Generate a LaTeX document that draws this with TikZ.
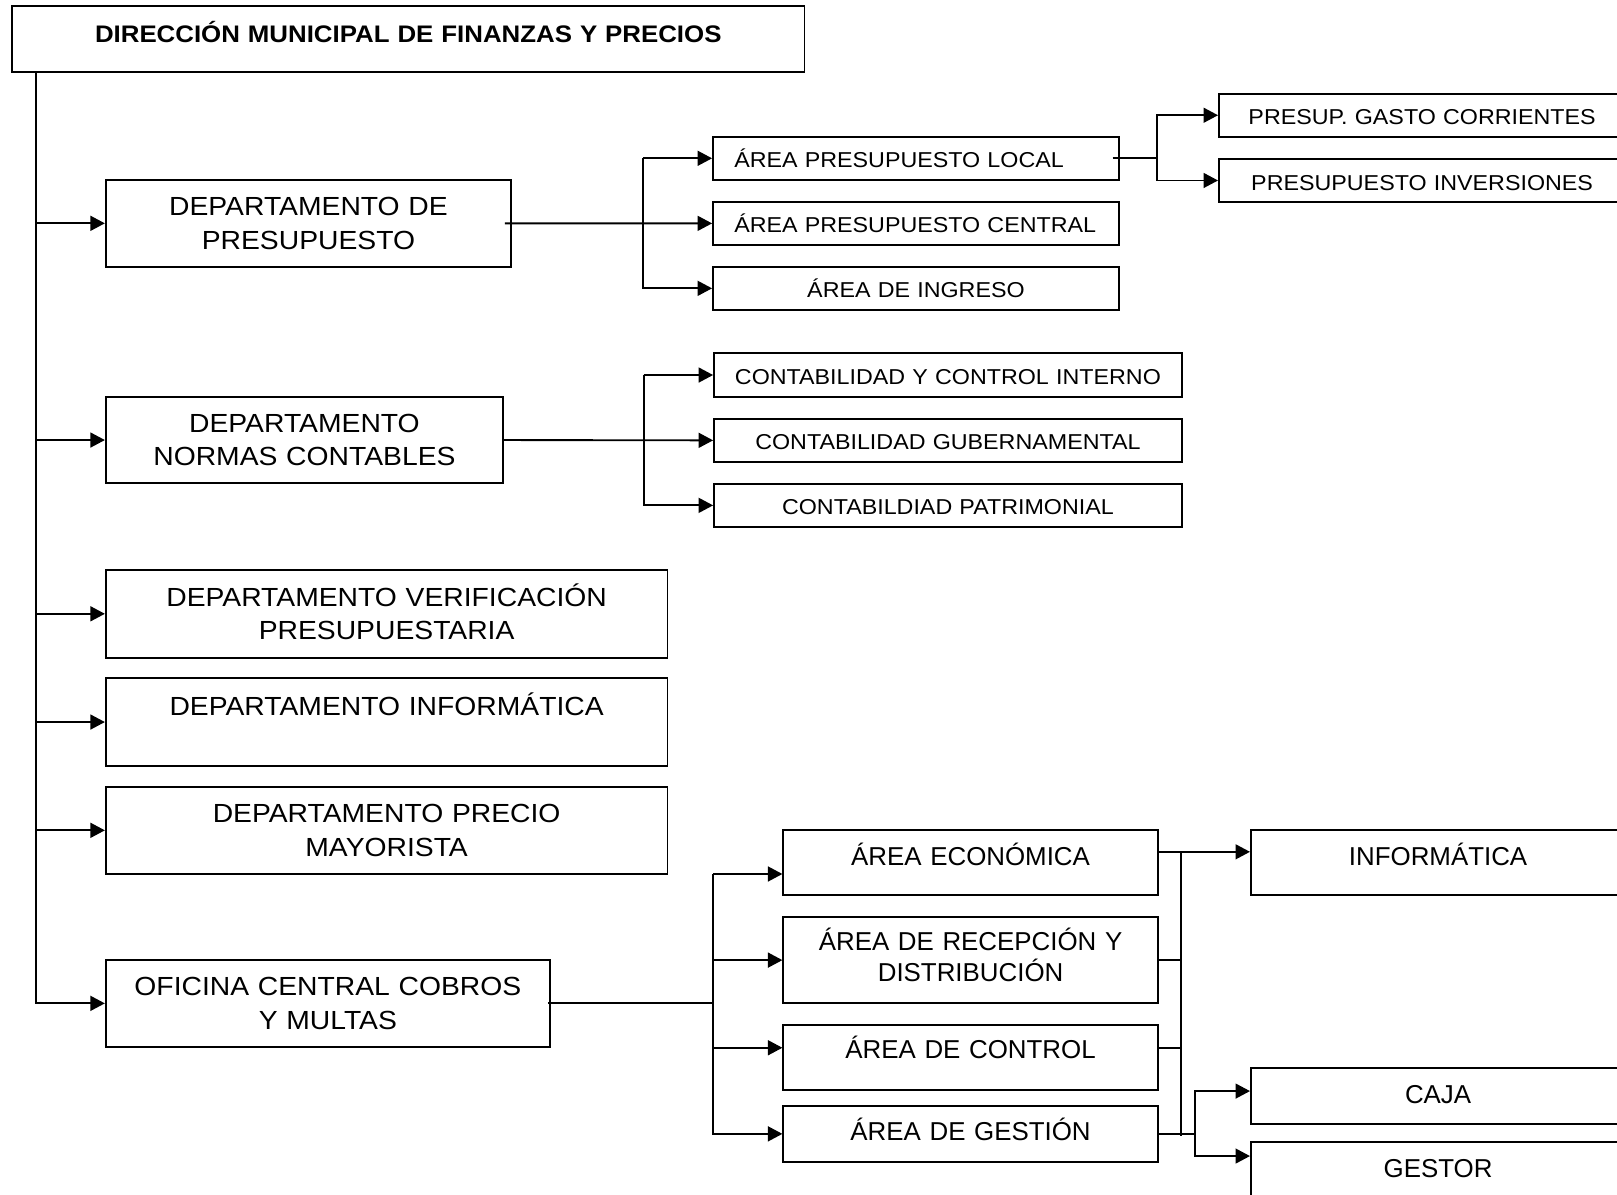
\documentclass[tikz,border=0pt]{standalone}
\usepackage{fontspec}
\setmainfont{Liberation Sans}
\newfontfamily\widesans[FakeStretch=1.08]{Liberation Sans}
\usetikzlibrary{arrows.meta,calc}

\tikzset{
  box/.style={draw, line width=0.9pt, inner ysep=0pt, inner xsep=2pt, align=center},
  link/.style={line width=0.9pt},
  arr/.style={link, -{Triangle[length=7pt,width=7.2pt]}},
  fhead/.style={font=\widesans\bfseries\fontsize{11.6pt}{14pt}\selectfont},
  fdept/.style={font=\widesans\fontsize{12.7pt}{16.1pt}\selectfont},
  farea/.style={font=\widesans\fontsize{10.45pt}{12.5pt}\selectfont},
  flow/.style={font=\fontsize{12.55pt}{15.25pt}\selectfont},
}

\begin{document}
\begin{tikzpicture}[x=0.5pt, y=-0.5pt]
\useasboundingbox (0,0) rectangle (1568,1158);
\clip (0,0) rectangle (1568,1158);
\fill[white] (0,0) rectangle (1568,1158);

% ---- head office ----
\node[box, fhead, minimum width=384.2pt, minimum height=31.85pt, text width=380.2pt,
      text height=8.1pt, text depth=4.7pt] (dir) at (395.9,37.7)
  {DIRECCIÓN MUNICIPAL DE FINANZAS Y PRECIOS};

% ---- departments ----
\node[box, fdept, minimum width=196.5pt, minimum height=42.05pt, text width=192.5pt,
      text height=8.9pt, text depth=16.1pt] (d1) at (299.1,216.55)
  {DEPARTAMENTO DE\\PRESUPUESTO};
\node[box, fdept, minimum width=192.6pt, minimum height=42pt, text width=188.6pt,
      text height=8.9pt, text depth=16.1pt] (d2) at (295.2,426.7)
  {DEPARTAMENTO\\NORMAS CONTABLES};
\node[box, fdept, minimum width=272.3pt, minimum height=42.5pt, text width=268.3pt,
      text height=8.9pt, text depth=16.1pt] (d3) at (374.9,595.2)
  {DEPARTAMENTO VERIFICACIÓN\\PRESUPUESTARIA};
\node[box, fdept, minimum width=272.3pt, minimum height=42.35pt, text width=268.3pt,
      text height=8.9pt, text depth=15.65pt] (d4) at (374.9,700.15)
  {DEPARTAMENTO INFORMÁTICA};
\node[box, fdept, minimum width=272.3pt, minimum height=42.35pt, text width=268.3pt,
      text height=8.9pt, text depth=16.1pt] (d5) at (374.9,805.15)
  {DEPARTAMENTO PRECIO\\MAYORISTA};
\node[box, fdept, minimum width=215.35pt, minimum height=42.05pt, text width=211.35pt,
      text height=8.9pt, text depth=16.1pt] (d6) at (317.95,972.95)
  {OFICINA CENTRAL COBROS\\Y MULTAS};

% ---- budget areas ----
\node[box, farea, align=left, inner xsep=10.3pt, minimum width=196.8pt, minimum height=21pt,
      text width=176.2pt, text height=9.3pt, text depth=0pt] (al) at (888.2,153.5)
  {ÁREA PRESUPUESTO LOCAL};
\node[box, farea, align=left, inner xsep=10.3pt, minimum width=196.8pt, minimum height=21pt,
      text width=176.2pt, text height=9.3pt, text depth=0pt] (ac) at (888.2,216.6)
  {ÁREA PRESUPUESTO CENTRAL};
\node[box, farea, minimum width=196.8pt, minimum height=21pt,
      text width=192.8pt, text height=9.3pt, text depth=0pt] (ai) at (888.2,279.6)
  {ÁREA DE INGRESO};

\node[box, farea, minimum width=197pt, minimum height=20.75pt,
      text width=193pt, text height=9.3pt, text depth=0pt] (pg) at (1379,111.75)
  {PRESUP. GASTO CORRIENTES};
\node[box, farea, minimum width=197pt, minimum height=21pt,
      text width=193pt, text height=9.3pt, text depth=0pt] (pi) at (1379,175)
  {PRESUPUESTO INVERSIONES};

% ---- accounting areas ----
\node[box, farea, minimum width=226.8pt, minimum height=21.05pt,
      text width=222.8pt, text height=8.8pt, text depth=0pt] (c1) at (919.2,363.65)
  {CONTABILIDAD Y CONTROL INTERNO};
\node[box, farea, minimum width=226.8pt, minimum height=20.7pt,
      text width=222.8pt, text height=8.8pt, text depth=0pt] (c2) at (919.2,427)
  {CONTABILIDAD GUBERNAMENTAL};
\node[box, farea, minimum width=226.8pt, minimum height=20.65pt,
      text width=222.8pt, text height=8.8pt, text depth=0pt] (c3) at (919.2,490.05)
  {CONTABILDIAD PATRIMONIAL};

% ---- collection office areas ----
\node[box, flow, minimum width=181.55pt, minimum height=31.5pt,
      text width=177.55pt, text height=8.8pt, text depth=6.5pt] (ae) at (941.15,836.5)
  {ÁREA ECONÓMICA};
\node[box, flow, minimum width=181.55pt, minimum height=42pt,
      text width=177.55pt, text height=8.8pt, text depth=18.25pt] (ar) at (941.15,931)
  {ÁREA DE RECEPCIÓN Y\\DISTRIBUCIÓN};
\node[box, flow, minimum width=181.55pt, minimum height=31.5pt,
      text width=177.55pt, text height=8.8pt, text depth=7.5pt] (act) at (941.15,1025.5)
  {ÁREA DE CONTROL};
\node[box, flow, minimum width=181.55pt, minimum height=27pt,
      text width=177.55pt, text height=8.8pt, text depth=2.5pt] (ag) at (941.15,1099.5)
  {ÁREA DE GESTIÓN};

\node[box, flow, minimum width=181.5pt, minimum height=31.5pt,
      text width=177.5pt, text height=8.8pt, text depth=6.5pt] (inf) at (1394.5,836.5)
  {INFORMÁTICA};
\node[box, flow, minimum width=181.5pt, minimum height=27.15pt,
      text width=177.5pt, text height=8.8pt, text depth=1.85pt] (caja) at (1394.5,1062.85)
  {CAJA};
\node[box, flow, minimum width=181.5pt, minimum height=27.75pt,
      text width=177.5pt, text height=8.8pt, text depth=2.25pt] (gestor) at (1394.5,1135.25)
  {GESTOR};

% ---- junction coordinates ----
\coordinate (tr) at (34.6,0);
\coordinate (pj) at (623.5,0);
\coordinate (nj) at (624.2,0);
\coordinate (lj) at (1122,153.5);
\coordinate (oj) at (691.5,972.95);
\coordinate (ya) at (691.5,847.5);
\coordinate (yc) at (691.5,1016);
\coordinate (ye) at (1145,826);
\coordinate (rb) at (1145,1101.5);
\coordinate (yk) at (1145,1016);
\coordinate (gj) at (1159,1099.5);
\coordinate (cj1) at (1159,1058);
\coordinate (cj2) at (1159,1121);

% ---- main trunk ----
\draw[arr] (tr |- dir.south) -- (tr |- d6.west) -- (d6.west);
\foreach \d in {d1,d2,d3,d4,d5}
  \draw[arr] (tr |- \d.west) -- (\d.west);

% ---- budget department ----
\draw[arr] ($(d1.east)+(-7,0)$) -- (ac.west);
\draw[arr] (pj |- al.west) -- (al.west);
\draw[arr] (pj |- al.west) -- (pj |- ai.west) -- (ai.west);

\draw[link] ($(al.east)+(-7,0)$) -- (lj);
\draw[arr] (lj) -- (lj |- pg.west) -- (pg.west);
\draw[arr] (lj) -- (lj |- pi.west) -- (pi.west);

% ---- accounting standards department ----
\draw[arr] (d2.east) -- (c2.west);
\draw[arr] (nj |- c1.west) -- (c1.west);
\draw[arr] (nj |- c1.west) -- (nj |- c3.west) -- (c3.west);

% ---- collection office ----
\draw[link] ($(d6.east)+(-3,0)$) -- (oj);
\draw[arr] (ya) -- (ya -| ae.west);
\draw[arr] (ya) -- (oj |- ag.west) -- (ag.west);
\draw[arr] (oj |- ar.west) -- (ar.west);
\draw[arr] (yc) -- (yc -| act.west);

\draw[arr] (ye -| ae.east) -- (ye -| inf.west);
\draw[link] (ye) -- (rb);
\draw[link] (ar.east) -- (ar.east -| ye);
\draw[link] (yk -| act.east) -- (yk);
\draw[link] (ag.east) -- (gj);
\draw[arr] (gj) -- (cj1) -- (cj1 -| caja.west);
\draw[arr] (gj) -- (cj2) -- (cj2 -| gestor.west);
\end{tikzpicture}
\end{document}
